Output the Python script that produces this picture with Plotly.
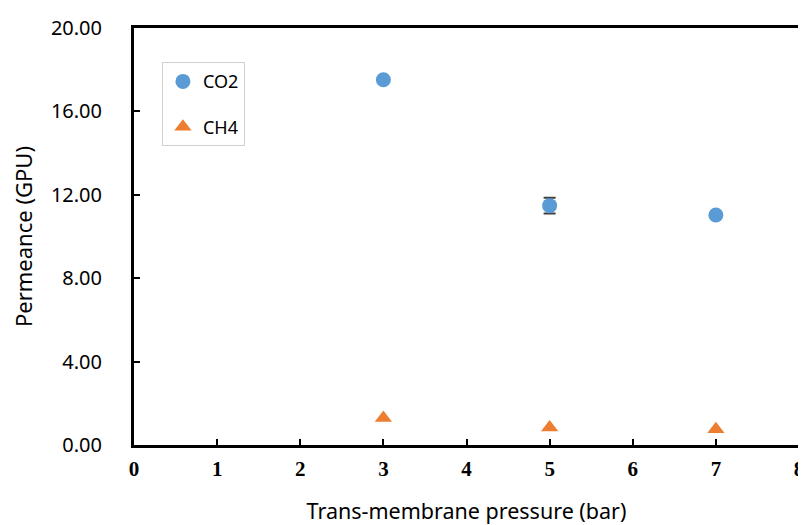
import plotly.graph_objects as go

pressure = [3, 5, 7]
co2 = [17.52, 11.48, 11.03]
co2_err = [0.0, 0.38, 0.0]
ch4 = [1.30, 0.84, 0.76]
x_ticks = [0, 1, 2, 3, 4, 5, 6, 7, 8]
y_ticks = [0, 4, 8, 12, 16, 20]

SANS = "Noto Sans"

fig = go.Figure()
fig.add_trace(go.Scatter(
    x=pressure, y=co2, mode="markers", name="CO2", legendgroup="a",
    marker=dict(symbol="circle", size=15, color="#5B9BD5"),
    error_y=dict(type="data", array=co2_err, visible=True, color="#404040", thickness=2, width=6),
))
fig.add_trace(go.Scatter(
    x=pressure, y=ch4, mode="markers", name="CH4", legendgroup="b",
    marker=dict(symbol="triangle-up", size=15, color="#ED7D31"),
))

# page body has an 8px default margin, so the figure is sized to fit inside the window
fig.update_layout(
    width=798, height=517,
    margin=dict(l=126, r=7, t=20, b=80),
    paper_bgcolor="white", plot_bgcolor="white",
    font=dict(family=SANS, color="black"),
    showlegend=True,
    legend=dict(
        x=0.042, y=0.918, xanchor="left", yanchor="top",
        bgcolor="white", bordercolor="#D0D0D0", borderwidth=1,
        font=dict(family=SANS, size=18, color="black"),
        tracegroupgap=19, itemwidth=30,
    ),
)
fig.update_xaxes(
    range=[0, 8], tickvals=x_ticks, ticktext=[str(v) for v in x_ticks],
    showgrid=False, zeroline=False, automargin=False,
    showline=True, linecolor="black", linewidth=3, mirror=True,
    ticks="inside", ticklen=6, tickwidth=2, tickcolor="black",
    tickfont=dict(family="Liberation Serif", size=21, weight="bold", color="black"),
    ticklabelstandoff=3,
    title=dict(text="Trans-membrane pressure (bar)", font=dict(family=SANS, size=21.5), standoff=24),
)
fig.update_yaxes(
    range=[0, 20], tickvals=y_ticks, ticktext=[f"{v:.2f}" for v in y_ticks],
    showgrid=False, zeroline=False, automargin=False,
    showline=True, linecolor="black", linewidth=3, mirror=True,
    ticks="inside", ticklen=6, tickwidth=2, tickcolor="black",
    tickfont=dict(family=SANS, size=20, color="black"),
    ticklabelstandoff=25,
    title=dict(text="Permeance (GPU)", font=dict(family=SANS, size=22), standoff=16),
)

fig.write_html("out.html")
